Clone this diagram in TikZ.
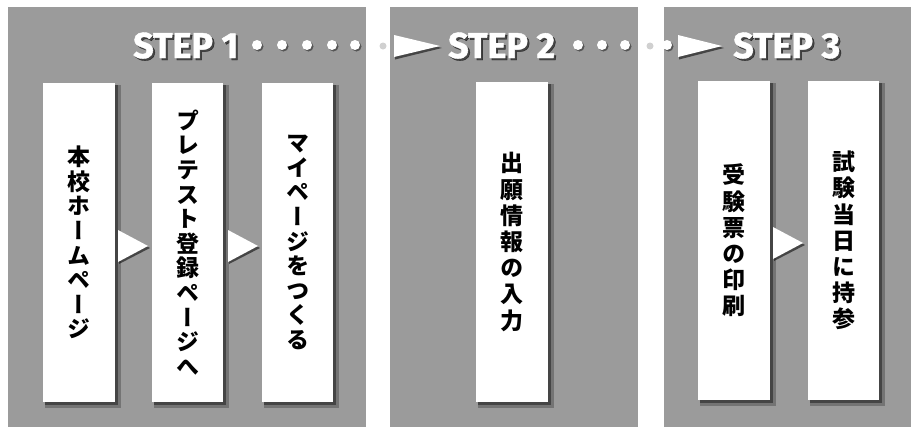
\documentclass[tikz,border=0pt]{standalone}
\usepackage{fontspec}
\newfontfamily\jp{Noto Sans CJK JP Black}[RawFeature=+vert]
\newfontfamily\stepfont{Fira Sans}[BoldFeatures={FakeBold=1.2}]
\definecolor{panelgray}{HTML}{9B9B9B}
\definecolor{shadowgray}{HTML}{3A3A3A}
\tikzset{
  panel/.style={fill=panelgray, draw=none},
  stepbox/.style={fill=white, draw=none},
  boxshadow/.style={fill=shadowgray, draw=none, opacity=0.8},
  boxshadowsoft/.style={fill=black, draw=none, opacity=0.25},
  vtext/.style={font=\jp\fontsize{23}{24.6}\selectfont, align=center, inner sep=0pt, text=black},
  steplabel/.style={font=\stepfont\bfseries\fontsize{36}{36}\selectfont, text=white, inner sep=0pt, anchor=base west},
  steplabelshadow/.style={font=\stepfont\bfseries\fontsize{36}{36}\selectfont, text=black, opacity=0.55, inner sep=0pt, anchor=base west},
  dot/.style={circle, fill=white, inner sep=0pt, minimum size=10pt},
  fadedot/.style={circle, fill=gray!60, inner sep=0pt, minimum size=7pt, opacity=0.6},
  tri/.style={fill=white, draw=none},
  trishadow/.style={fill=black, draw=none, opacity=0.55},
}
\newcommand{\shadowbox}[3]{% name, top-left, bottom-right
  \fill[boxshadowsoft] ($(#2)+(2,2)$) rectangle ($(#3)+(6,6)$);
  \fill[boxshadow] ($(#2)+(2,2)$) rectangle ($(#3)+(3,3)$);
  \path[stepbox] (#2) rectangle (#3);
  \coordinate (#1) at ($(#2)!0.5!(#3)$);
}
\usetikzlibrary{calc}
\begin{document}
\begin{tikzpicture}[x=1pt, y=-1pt]
\useasboundingbox (0,0) rectangle (915,429);
\fill[white] (0,0) rectangle (915,429);
% panels
\path[panel] (8,7) rectangle (366,427);
\path[panel] (390,7) rectangle (638,427);
\path[panel] (664,7) rectangle (911,427);

% boxes
\coordinate (b1a) at (43,83);  \coordinate (b1b) at (115,402);
\coordinate (b2a) at (152,83); \coordinate (b2b) at (223,402);
\coordinate (b3a) at (262,83); \coordinate (b3b) at (333,402);
\coordinate (b4a) at (476,82); \coordinate (b4b) at (548,402);
\coordinate (b5a) at (698,81); \coordinate (b5b) at (770,400);
\coordinate (b6a) at (808,81); \coordinate (b6b) at (879,400);
\shadowbox{c1}{b1a}{b1b}
\shadowbox{c2}{b2a}{b2b}
\shadowbox{c3}{b3a}{b3b}
\shadowbox{c4}{b4a}{b4b}
\shadowbox{c5}{b5a}{b5b}
\shadowbox{c6}{b6a}{b6b}

\node[vtext] (t1) at (c1) {本\\校\\ホ\\ー\\ム\\ペ\\ー\\ジ};
\node[vtext] (t2) at (c2) {プ\\レ\\テ\\ス\\ト\\登\\録\\ペ\\ー\\ジ\\へ};
\node[vtext] (t3) at (c3) {マ\\イ\\ペ\\ー\\ジ\\を\\つ\\く\\る};
\node[vtext, font=\jp\fontsize{23}{26.2}\selectfont] (t4) at (c4) {出\\願\\情\\報\\の\\入\\力};
\node[vtext, font=\jp\fontsize{23}{26.2}\selectfont] (t5) at (c5) {受\\験\\票\\の\\印\\刷};
\node[vtext, font=\jp\fontsize{23}{26.2}\selectfont] (t6) at (c6) {試\\験\\当\\日\\に\\持\\参};

% small arrows between boxes
\coordinate (a1a) at (118,230); \coordinate (a1t) at (148,246); \coordinate (a1b) at (118,262);
\coordinate (a2a) at (228,230); \coordinate (a2t) at (258,246); \coordinate (a2b) at (228,262);
\coordinate (a3a) at (773,227); \coordinate (a3t) at (803,243); \coordinate (a3b) at (773,259);
\foreach \p in {a1,a2,a3}{
  \fill[trishadow] ($(\p a)+(1,1)$) -- ($(\p t)+(2,2)$) -- ($(\p b)+(1,2)$) -- cycle;
  \fill[tri] (\p a) -- (\p t) -- (\p b) -- cycle;
}

% header
\node[steplabelshadow] (s1s) at (135,60) {STEP 1};
\node[steplabel] (s1) at (133,58) {STEP 1};
\node[steplabelshadow] (s2s) at (450,60) {STEP 2};
\node[steplabel] (s2) at (448,58) {STEP 2};
\node[steplabelshadow] (s3s) at (735,60) {STEP 3};
\node[steplabel] (s3) at (733,58) {STEP 3};

\foreach \x [count=\i] in {257,282,307,332,355,578,602,625,667}{
  \node[dot, fill=black, opacity=0.45] (ds\i) at (\x+1.5,46.5) {};
  \node[dot] (d\i) at (\x,45) {};
}
\node[fadedot] (f1) at (383,46) {};
\node[fadedot] (f2) at (650,46) {};

\coordinate (h1a) at (394,35); \coordinate (h1t) at (440,46); \coordinate (h1b) at (394,57);
\coordinate (h2a) at (678,35); \coordinate (h2t) at (722,46); \coordinate (h2b) at (678,57);
\foreach \p in {h1,h2}{
  \fill[trishadow] ($(\p a)+(1,1)$) -- ($(\p t)+(2,2)$) -- ($(\p b)+(1,2.5)$) -- cycle;
  \fill[tri] (\p a) -- (\p t) -- (\p b) -- cycle;
}
\end{tikzpicture}
\end{document}
